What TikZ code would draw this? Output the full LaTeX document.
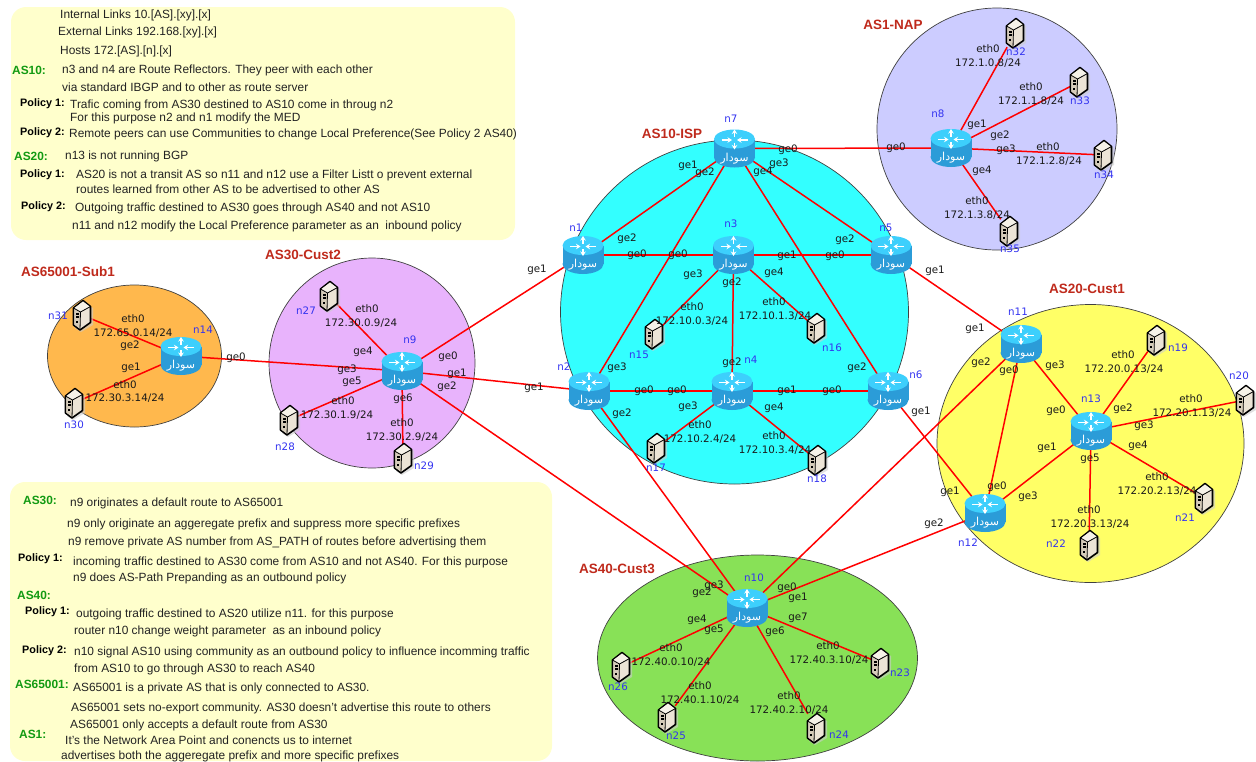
\documentclass[tikz,border=0pt]{standalone}
\usepackage{fontspec}
\setmainfont{Liberation Sans}
\newfontfamily\labfont{DejaVu Sans}
\newfontfamily\arabicfont[Script=Arabic]{DejaVu Sans}
\TeXXeTstate=1
\usetikzlibrary{arrows.meta}
\pgfdeclarelayer{areas}\pgfdeclarelayer{links}
\pgfsetlayers{areas,links,main}
\definecolor{linkred}{HTML}{FF0000}
\definecolor{astitle}{HTML}{BF2A1C}
\definecolor{nameblue}{HTML}{3333F0}
\definecolor{asgreen}{HTML}{129A12}
\definecolor{notebg}{HTML}{FFFFCC}
\definecolor{notetext}{HTML}{222222}
\definecolor{routerbody}{HTML}{2B9CD8}
\definecolor{routertop}{HTML}{3DCFFC}
\definecolor{hosttop}{HTML}{F6F2E8}
\definecolor{hostleft}{HTML}{D6CCBA}
\definecolor{hostright}{HTML}{ECE4D6}
\definecolor{asone}{HTML}{CCCCFF}
\definecolor{asten}{HTML}{33FFFF}
\definecolor{astwenty}{HTML}{FFFF66}
\definecolor{asforty}{HTML}{88E157}
\definecolor{asthirty}{HTML}{E8B3FC}
\definecolor{asprivate}{HTML}{FFB84D}
\tikzset{
 x=1pt,y=-1pt,
 area/.style={draw=black!75,line width=0.7pt},
 link/.style={draw=linkred,line width=1.5pt},
 routerbox/.style={circle,minimum size=38pt,inner sep=0pt},
 hostbox/.style={rectangle,minimum width=16pt,minimum height=28pt,inner sep=0pt},
 portlab/.style={font=\labfont\fontsize{10.3}{12}\selectfont,text=black!90,inner sep=0pt},
 namelab/.style={font=\labfont\fontsize{10.3}{12}\selectfont,text=nameblue,inner sep=0pt},
 astitlelab/.style={font=\bfseries\fontsize{13.5}{15}\selectfont,text=astitle,inner sep=0pt},
 notebox/.style={fill=notebg,rounded corners=15pt},
 noteline/.style={anchor=west,font=\fontsize{11.9}{13}\selectfont,text=notetext,inner sep=0pt},
 notehead/.style={anchor=west,font=\bfseries\fontsize{11.9}{13}\selectfont,text=asgreen,inner sep=0pt},
 notepol/.style={anchor=west,font=\bfseries\fontsize{10.8}{13}\selectfont,text=black,inner sep=0pt},
 tip/.style={white,line width=1.5pt,-{Stealth[length=4.5pt,width=5.5pt]}},
 routericon/.pic={
  \fill[routerbody] (0,9) ellipse (20.5 and 10);
  \fill[routerbody] (-20.5,-9) rectangle (20.5,9);
  \fill[routertop] (0,-9.5) ellipse (20.5 and 9.5);
  \draw[tip] (-13,-8.5) -- (-2.5,-8.5);
  \draw[tip] (13,-8.5) -- (2.5,-8.5);
  \draw[tip] (0,-11.5) -- (0,-19);
  \draw[tip] (0,-6) -- (0,1);
  \node[text=white,inner sep=0pt,font=\arabicfont\fontsize{11}{12}\selectfont] (tag) at (0,10) {\beginR سودار\endR};
 },
 hosticon/.pic={
  \fill[black!20,opacity=.6] (3,-12) -- (11,-7) -- (11,10) -- (-1,17) -- (-7,13) -- cycle;
  \draw[fill=hostright,line width=1.6pt,line join=round] (1,-14.5) -- (8.5,-8.5) -- (8.5,7.5) -- (-2,15) -- (-8.5,10) -- (-8.5,-7) -- cycle;
  \fill[hosttop] (-7.6,-7) -- (1,-13.5) -- (7.6,-8.5) -- (-1.5,-3.5) -- cycle;
  \fill[hostleft] (-7.7,-6) -- (-2,-2.5) -- (-2,13.5) -- (-7.7,9.6) -- cycle;
  \draw[black,line width=0.8pt] (-8.5,-7) -- (-1.5,-3) -- (8.5,-8.5) (-1.5,-3) -- (-2,15);
  \fill[black] (-6.5,-2.5) rectangle (-3.5,-0.5);
  \fill[black] (-6.5,1) rectangle (-3.5,2.8);
  \fill[black] (-6.5,5.5) rectangle (-4.5,7.5);
 }
}
\newcounter{lb}
\newcommand\glab[3]{\stepcounter{lb}\node[portlab] (p\thelb) at (#1,#2) {#3};}
\newcommand\nlab[3]{\stepcounter{lb}\node[namelab] (p\thelb) at (#1,#2) {#3};}
\newcommand\astl[3]{\stepcounter{lb}\node[astitlelab] (p\thelb) at (#1,#2) {#3};}
\newcommand\nln[3]{\stepcounter{lb}\node[noteline] (p\thelb) at (#1,#2) {#3};}
\newcommand\nhd[3]{\stepcounter{lb}\node[notehead] (p\thelb) at (#1,#2) {#3};}
\newcommand\npol[3]{\stepcounter{lb}\node[notepol] (p\thelb) at (#1,#2) {#3};}
\newcommand\routerN[3]{\node[routerbox] (#1) at (#2,#3) {}; \pic (#1i) at (#1) {routericon};}
\newcommand\hostN[3]{\node[hostbox] (#1) at (#2,#3) {}; \pic (#1i) at (#1) {hosticon};}
\begin{document}
\begin{tikzpicture}
\useasboundingbox (0,0) rectangle (1256,761);
\begin{pgfonlayer}{areas}
 \fill[notebox] (11,7) rectangle (515,240);
 \fill[notebox] (10,482) rectangle (552,761);
 \draw[area,fill=asone] (997,129) ellipse (120 and 121);
 \draw[area,fill=asten] (734.5,312) ellipse (174 and 172);
 \draw[area,fill=astwenty] (1090.5,443.5) ellipse (153.5 and 139);
 \draw[area,fill=asforty] (757.5,658) ellipse (160 and 103);
 \draw[area,fill=asthirty] (372,363) ellipse (103 and 105);
 \draw[area,fill=asprivate] (134.5,356) ellipse (87 and 71);
\end{pgfonlayer}
% routers
\routerN{n1}{583}{255}\routerN{n2}{589}{391}\routerN{n3}{733.5}{255}\routerN{n4}{732}{391}
\routerN{n5}{891}{255}\routerN{n6}{888}{391}\routerN{n7}{734.5}{148.5}\routerN{n8}{951}{148}
\routerN{n9}{402}{371}\routerN{n10}{747}{608}\routerN{n11}{1021}{344}\routerN{n12}{985}{513}
\routerN{n13}{1091}{431}\routerN{n14}{181}{356}
% hosts
\hostN{n15}{654}{334}\hostN{n16}{816}{328}\hostN{n17}{656}{448}\hostN{n18}{817}{460}
\hostN{n19}{1156}{340}\hostN{n20}{1245}{400}\hostN{n21}{1204}{498}\hostN{n22}{1089}{545}
\hostN{n23}{880}{663}\hostN{n24}{816}{728}\hostN{n25}{667}{717}\hostN{n26}{621}{667}
\hostN{n27}{329}{296}\hostN{n28}{289}{420}\hostN{n29}{403}{458}\hostN{n30}{74}{403}
\hostN{n31}{82}{315}\hostN{n32}{1015}{33}\hostN{n33}{1079}{82}\hostN{n34}{1103}{155}\hostN{n35}{1009}{231}
\begin{pgfonlayer}{links}
 \foreach \a/\b in {n7/n1,n7/n2,n7/n5,n7/n6,n7/n8,n1/n3,n3/n5,n3/n4,n2/n4,n4/n6,n1/n9,n2/n9,n9/n10,n2/n10,n5/n11,n6/n12,n11/n10,n12/n10,n11/n12,n11/n13,n12/n13,n9/n14,n3/n15,n3/n16,n4/n17,n4/n18,n13/n19,n13/n20,n13/n21,n13/n22,n10/n23,n10/n24,n10/n25,n10/n26,n9/n27,n9/n28,n9/n29,n14/n30,n14/n31,n8/n32,n8/n33,n8/n34,n8/n35}
  {\draw[link] (\a) -- (\b);}
\end{pgfonlayer}
% AS titles
\astl{893}{25}{AS1-NAP}\astl{672}{134}{AS10-ISP}\astl{303}{255}{AS30-Cust2}
\astl{68}{272}{AS65001-Sub1}\astl{1087}{289}{AS20-Cust1}\astl{617}{569}{AS40-Cust3}
% node names
\nlab{731}{119}{n7}\nlab{938}{114}{n8}\nlab{1016}{52}{n32}\nlab{1080}{101}{n33}\nlab{1104}{175}{n34}\nlab{1010}{249}{n35}
\nlab{576}{228}{n1}\nlab{731}{224}{n3}\nlab{886}{228}{n5}\nlab{564}{367}{n2}\nlab{751}{360}{n4}\nlab{916}{375}{n6}
\nlab{639}{355}{n15}\nlab{832}{348}{n16}\nlab{656}{468}{n17}\nlab{817}{479}{n18}
\nlab{410}{340}{n9}\nlab{306}{311}{n27}\nlab{285}{447}{n28}\nlab{424}{466}{n29}
\nlab{58}{316}{n31}\nlab{203}{330}{n14}\nlab{74}{425}{n30}
\nlab{1018}{312}{n11}\nlab{1091}{399}{n13}\nlab{968}{543}{n12}\nlab{1178}{348}{n19}\nlab{1239}{376}{n20}\nlab{1185}{518}{n21}\nlab{1056}{544}{n22}
\nlab{754}{578}{n10}\nlab{618}{687}{n26}\nlab{676}{736}{n25}\nlab{839}{735}{n24}\nlab{900}{673}{n23}
% port labels
\glab{688}{166}{ge1}\glab{705}{173}{ge2}\glab{788}{150}{ge0}\glab{779}{164}{ge3}\glab{763}{172}{ge4}
\glab{896}{148}{ge0}\glab{977}{125}{ge1}\glab{1000}{136}{ge2}\glab{1006}{150}{ge3}\glab{982}{171}{ge4}
\glab{988}{49}{eth0}\glab{988}{63}{172.1.0.8/24}
\glab{1031}{87}{eth0}\glab{1031}{101}{172.1.1.8/24}
\glab{1048}{147}{eth0}\glab{1049}{161}{172.1.2.8/24}
\glab{977}{201}{eth0}\glab{977}{215}{172.1.3.8/24}
\glab{627}{239}{ge2}\glab{637}{255}{ge0}\glab{678}{255}{ge0}\glab{693}{275}{ge3}\glab{787}{256}{ge1}\glab{835}{256}{ge0}\glab{845}{240}{ge2}\glab{774}{273}{ge4}\glab{732}{283}{ge2}
\glab{692}{307}{eth0}\glab{692}{321}{172.10.0.3/24}
\glab{774}{302}{eth0}\glab{775}{316}{172.10.1.3/24}
\glab{617}{368}{ge3}\glab{732}{363}{ge2}\glab{857}{368}{ge2}\glab{644}{391}{ge0}\glab{677}{391}{ge0}\glab{787}{391}{ge1}\glab{832}{391}{ge0}\glab{688}{407}{ge3}\glab{774}{408}{ge4}\glab{622}{414}{ge2}
\glab{700}{425}{eth0}\glab{700}{439}{172.10.2.4/24}
\glab{774}{436}{eth0}\glab{775}{450}{172.10.3.4/24}
\glab{921}{412}{ge1}\glab{935}{271}{ge1}\glab{537}{270}{ge1}\glab{534}{388}{ge1}
\glab{363}{352}{ge4}\glab{448}{357}{ge0}\glab{347}{370}{ge3}\glab{457}{374}{ge1}\glab{352}{382}{ge5}\glab{447}{387}{ge2}\glab{403}{399}{ge6}
\glab{402}{423}{eth0}\glab{402}{437}{172.30.2.9/24}
\glab{367}{309}{eth0}\glab{361}{323}{172.30.0.9/24}
\glab{343}{401}{eth0}\glab{337}{415}{172.30.1.9/24}
\glab{236}{358}{ge0}
\glab{133}{319}{eth0}\glab{133}{333}{172.65.0.14/24}\glab{130}{346}{ge2}\glab{131}{368}{ge1}\glab{125}{385}{eth0}\glab{125}{398}{172.30.3.14/24}
\glab{975}{329}{ge1}\glab{981}{363}{ge2}\glab{1009}{371}{ge0}\glab{1055}{366}{ge3}\glab{1056}{411}{ge0}\glab{1123}{409}{ge2}\glab{1144}{426}{ge3}\glab{1138}{446}{ge4}\glab{1047}{448}{ge1}\glab{1090}{459}{ge5}\glab{997}{487}{ge0}\glab{950}{492}{ge1}\glab{1028}{497}{ge3}\glab{934}{524}{ge2}
\glab{1123}{355}{eth0}\glab{1124}{369}{172.20.0.13/24}
\glab{1191}{399}{eth0}\glab{1192}{413}{172.20.1.13/24}
\glab{1157}{477}{eth0}\glab{1157}{491}{172.20.2.13/24}
\glab{1089}{510}{eth0}\glab{1090}{524}{172.20.3.13/24}
\glab{714}{586}{ge3}\glab{702}{593}{ge2}\glab{787}{588}{ge0}\glab{798}{598}{ge1}\glab{798}{618}{ge7}\glab{697}{620}{ge4}\glab{714}{630}{ge5}\glab{775}{632}{ge6}
\glab{671}{648}{eth0}\glab{671}{662}{172.40.0.10/24}
\glab{700}{686}{eth0}\glab{700}{700}{172.40.1.10/24}
\glab{789}{696}{eth0}\glab{789}{710}{172.40.2.10/24}
\glab{828}{646}{eth0}\glab{829}{660}{172.40.3.10/24}
% top note
\nln{60}{15}{Internal Links 10.[AS].[xy].[x]}
\nln{58}{32}{External Links 192.168.[xy].[x]}
\nln{60}{51}{Hosts 172.[AS].[n].[x]}
\nhd{12}{70}{AS10:}
\nln{62}{70}{n3 and n4 are Route Reflectors. They peer with each other}
\nln{62}{87}{via standard IBGP and to other as route server}
\npol{20}{104}{Policy 1:}
\nln{70}{105}{Trafic coming from AS30 destined to AS10 come in throug n2}
\nln{70}{118}{For this purpose n2 and n1 modify the MED}
\npol{20}{133}{Policy 2:}
\nln{69}{134}{Remote peers can use Communities to change Local Preference(See Policy 2 AS40)}
\nhd{14}{156}{AS20:}
\nln{65}{156}{n13 is not running BGP}
\npol{20}{175}{Policy 1:}
\nln{76}{175}{AS20 is not a transit AS so n11 and n12 use a Filter Listt o prevent external}
\nln{76}{189}{routes learned from other AS to be advertised to other AS}
\npol{21}{207}{Policy 2:}
\nln{75}{208}{Outgoing traffic destined to AS30 goes through AS40 and not AS10}
\nln{72}{226}{n11 and n12 modify the Local Preference parameter as an\ \ inbound policy}
% bottom note
\nhd{23}{500}{AS30:}
\nln{70}{503}{n9 originates a default route to AS65001}
\nln{67}{524}{n9 only originate an aggeregate prefix and suppress more specific prefixes}
\nln{68}{542}{n9 remove private AS number from AS\_PATH of routes before advertising them}
\npol{18}{559}{Policy 1:}
\nln{73}{562}{incoming traffic destined to AS30 come from AS10 and not AS40. For this purpose}
\nln{73}{578}{n9 does AS-Path Prepanding as an outbound policy}
\nhd{17}{595}{AS40:}
\npol{25}{612}{Policy 1:}
\nln{76}{614}{outgoing traffic destined to AS20 utilize n11. for this purpose}
\nln{74}{631}{router n10 change weight parameter\ \ as an inbound policy}
\npol{22}{651}{Policy 2:}
\nln{74}{652}{n10 signal AS10 using community as an outbound policy to influence incomming traffic}
\nln{74}{669}{from AS10 to go through AS30 to reach AS40}
\nhd{15}{684}{AS65001:}
\nln{73}{688}{AS65001 is a private AS that is only connected to AS30.}
\nln{71}{708}{AS65001 sets no-export community. AS30 doesn't advertise this route to others}
\nln{70}{725}{AS65001 only accepts a default route from AS30}
\nhd{19}{734}{AS1:}
\nln{65}{740}{It's the Network Area Point and conencts us to internet}
\nln{61}{756}{advertises both the aggeregate prefix and more specific prefixes}
\end{tikzpicture}
\end{document}
